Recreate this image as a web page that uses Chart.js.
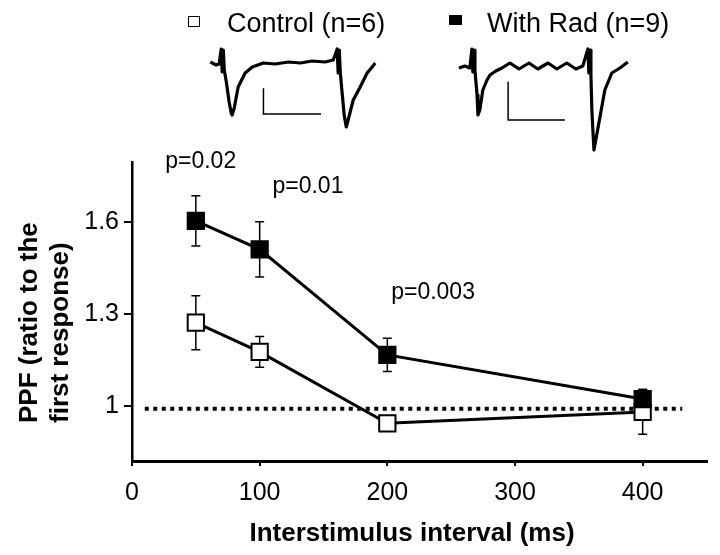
<!DOCTYPE html>
<html>
<head>
<meta charset="utf-8">
<script src="https://cdn.jsdelivr.net/npm/chart.js@4.4.0/dist/chart.umd.min.js"></script>
<style>
  html, body { margin: 0; padding: 0; background: #fff; }
  #wrap { position: relative; width: 720px; height: 555px; }
  #wrap canvas { position: absolute; }
</style>
</head>
<body>
<div id="wrap">
  <canvas id="main" width="720" height="555" style="left:0;top:0"></canvas>
  <canvas id="trace-ctrl" width="180" height="100" style="left:205px;top:40px"></canvas>
  <canvas id="trace-rad" width="180" height="120" style="left:455px;top:40px"></canvas>
</div>
<script>
// paired-pulse data (ratio of 2nd to 1st response)
const intervals = [50, 100, 200, 400];
const controlMean = [1.273, 1.178, 0.945, 0.982];
const controlSem = [0.088, 0.05, 0.015, 0.073];
const radMean = [1.605, 1.512, 1.168, 1.024];
const radSem = [0.082, 0.09, 0.054, 0.031];
const seriesLabels = ['Control (n=6)', 'With Rad (n=9)'];
const xTicks = [0, 100, 200, 300, 400];
const yTicks = [1, 1.3, 1.6];
const refLevel = 0.992;
const refSpan = [10, 431];
const pLabels = ['p=0.02', 'p=0.01', 'p=0.003'];
const pAnchors = [[26, 1.777], [110, 1.696], [203, 1.35]];

// example sweeps (ms, amplitude)
const ctrlTraceT = [-4.7, -2.2, -0.9, 0, 0.4, 0.9, 1.3, 2.2, 3.4, 4.3, 4.7, 5.6, 7.3, 10.3, 13.4, 18.1, 23.3, 28.9, 34.1, 39.2, 44.8, 48.3, 50, 50.4, 50.9, 51.3, 52.2, 53, 53.9, 54.7, 56.9, 59.9, 62.9, 64.7, 66.4];
const ctrlTraceI = [1, -2, -1, 14, -9, 13, -7, -19, -39, -50, -52, -45, -24, -10, -4, 0, -1, 1, 0, 2, 1, 3, 14, -10, 13, -9, -32, -52, -64, -57, -37, -24, -10, -5, 0];
const radTraceT = [-5.6, -3.0, -0.9, 0, 0.4, 0.9, 1.3, 2.2, 2.6, 3.4, 4.7, 6.5, 7.8, 10.3, 12.9, 16.4, 20.3, 24.6, 28.4, 32.8, 36.6, 40.9, 44.8, 47.8, 50, 50.4, 50.9, 51.3, 51.7, 52.6, 53.4, 55.2, 57.3, 60.3, 63.8, 67.2];
const radTraceI = [-1, 1, -1, 18, -5, 17, -3, -28, -48, -43, -23, -13, -8, -4, -1, 4, -2, 4, -2, 4, -2, 4, -2, 1, 18, -6, 17, -8, -43, -83, -73, -50, -23, -6, -1, 5];
const ctrlBarT = [18.2, 18.2, 43.0];
const ctrlBarI = [-25.3, -51, -51];
const radBarT = [15.6, 15.6, 40.1];
const radBarI = [-14.7, -53, -53];

Chart.defaults.font.family = "'Liberation Sans', Arial, sans-serif";
Chart.defaults.color = '#000';

const toPoints = (xs, ys) => xs.map((x, i) => ({ x: x, y: ys[i] }));

const errorBars = {
    id: 'errorBars',
    beforeDatasetsDraw(chart) {
        const { ctx, scales: { x, y } } = chart;
        ctx.save();
        ctx.strokeStyle = '#000';
        ctx.lineWidth = 1.5;
        chart.data.datasets.forEach(ds => {
            if (!ds.sem) return;
            ds.data.forEach((p, i) => {
                const px = x.getPixelForValue(p.x);
                const top = y.getPixelForValue(p.y + ds.sem[i]);
                const bot = y.getPixelForValue(p.y - ds.sem[i]);
                ctx.beginPath();
                ctx.moveTo(px, top); ctx.lineTo(px, bot);
                ctx.moveTo(px - 4.5, top); ctx.lineTo(px + 4.5, top);
                ctx.moveTo(px - 4.5, bot); ctx.lineTo(px + 4.5, bot);
                ctx.stroke();
            });
        });
        ctx.restore();
    }
};

const textLayer = {
    id: 'textLayer',
    afterDraw(chart) {
        const { ctx, scales: { x, y } } = chart;
        const fam = "'Liberation Sans', Arial, sans-serif";
        ctx.save();
        ctx.fillStyle = '#000';
        ctx.strokeStyle = '#000';

        // legend
        ctx.lineWidth = 1;
        ctx.strokeRect(188.5, 16.5, 11, 10);
        ctx.fillRect(449, 15, 13, 10);
        ctx.font = '27px ' + fam;
        ctx.textBaseline = 'alphabetic';
        ctx.textAlign = 'left';
        ctx.fillText(seriesLabels[0], 227, 32);
        ctx.fillText(seriesLabels[1], 487, 32);

        // p values
        ctx.font = '23px ' + fam;
        pLabels.forEach((t, i) => {
            ctx.fillText(t, x.getPixelForValue(pAnchors[i][0]), y.getPixelForValue(pAnchors[i][1]));
        });

        // axis titles
        ctx.font = 'bold 26px ' + fam;
        ctx.textAlign = 'center';
        ctx.fillText('Interstimulus interval (ms)', 412, 541);
        ctx.translate(0, 423);
        ctx.rotate(-Math.PI / 2);
        ctx.textAlign = 'left';
        ctx.fillText('PPF (ratio to the', 0, 37);
        ctx.fillText('first response)', 0, 68);
        ctx.restore();
    }
};

new Chart(document.getElementById('main'), {
    type: 'line',
    data: {
        datasets: [
            {
                label: seriesLabels[1],
                data: toPoints(intervals, radMean),
                sem: radSem,
                borderColor: '#000',
                borderWidth: 3,
                pointStyle: 'rect',
                pointRadius: 11.5,
                pointBackgroundColor: '#000',
                pointBorderColor: '#000',
                pointBorderWidth: 2,
                order: 0
            },
            {
                label: seriesLabels[0],
                data: toPoints(intervals, controlMean),
                sem: controlSem,
                borderColor: '#000',
                borderWidth: 3,
                pointStyle: 'rect',
                pointRadius: 11.5,
                pointBackgroundColor: '#fff',
                pointBorderColor: '#000',
                pointBorderWidth: 2,
                order: 1
            },
            {
                label: 'baseline',
                data: refSpan.map(v => ({ x: v, y: refLevel })),
                borderColor: '#000',
                borderWidth: 4,
                borderDash: [4, 4.5],
                borderCapStyle: 'butt',
                pointRadius: 0,
                order: 2
            }
        ]
    },
    options: {
        responsive: false,
        animation: false,
        layout: { padding: { top: 162, right: 10, left: 0, bottom: 0 } },
        plugins: { legend: { display: false }, tooltip: { enabled: false } },
        scales: {
            x: {
                type: 'linear',
                min: 0,
                max: 450,
                afterBuildTicks: s => { s.ticks = xTicks.map(v => ({ value: v })); },
                afterFit: s => { s.height = 94; },
                border: { display: true, color: '#000', width: 3 },
                grid: { display: true, drawOnChartArea: false, drawTicks: true, tickLength: 5, color: '#000', lineWidth: 2 },
                ticks: { color: '#000', font: { size: 25 }, padding: 12, maxRotation: 0, autoSkip: false, callback: v => String(v) }
            },
            y: {
                type: 'linear',
                min: 0.822,
                max: 1.797,
                afterBuildTicks: s => { s.ticks = yTicks.map(v => ({ value: v })); },
                afterFit: s => { s.width = 132; },
                border: { display: true, color: '#000', width: 2.5 },
                grid: { display: true, drawOnChartArea: false, drawTicks: true, tickLength: 8, color: '#000', lineWidth: 2 },
                ticks: { color: '#000', font: { size: 25 }, padding: 5, callback: v => String(v) }
            }
        }
    },
    plugins: [errorBars, textLayer]
});

function makeTrace(id, t, amp, barT, barAmp, xr, yr) {
    return new Chart(document.getElementById(id), {
        type: 'line',
        data: {
            datasets: [
                { data: toPoints(t, amp), borderColor: '#000', borderWidth: 3.2, pointRadius: 0, borderJoinStyle: 'round' },
                { data: toPoints(barT, barAmp), borderColor: '#000', borderWidth: 1.5, pointRadius: 0 }
            ]
        },
        options: {
            responsive: false,
            animation: false,
            layout: { padding: 0 },
            plugins: { legend: { display: false }, tooltip: { enabled: false } },
            scales: {
                x: { type: 'linear', min: xr[0], max: xr[1], display: false },
                y: { type: 'linear', min: yr[0], max: yr[1], display: false }
            }
        }
    });
}

makeTrace('trace-ctrl', ctrlTraceT, ctrlTraceI, ctrlBarT, ctrlBarI, [-7, 70.6], [-77, 23]);
makeTrace('trace-rad', radTraceT, radTraceI, radBarT, radBarI, [-7.3, 70.3], [-93, 27]);
</script>
</body>
</html>
